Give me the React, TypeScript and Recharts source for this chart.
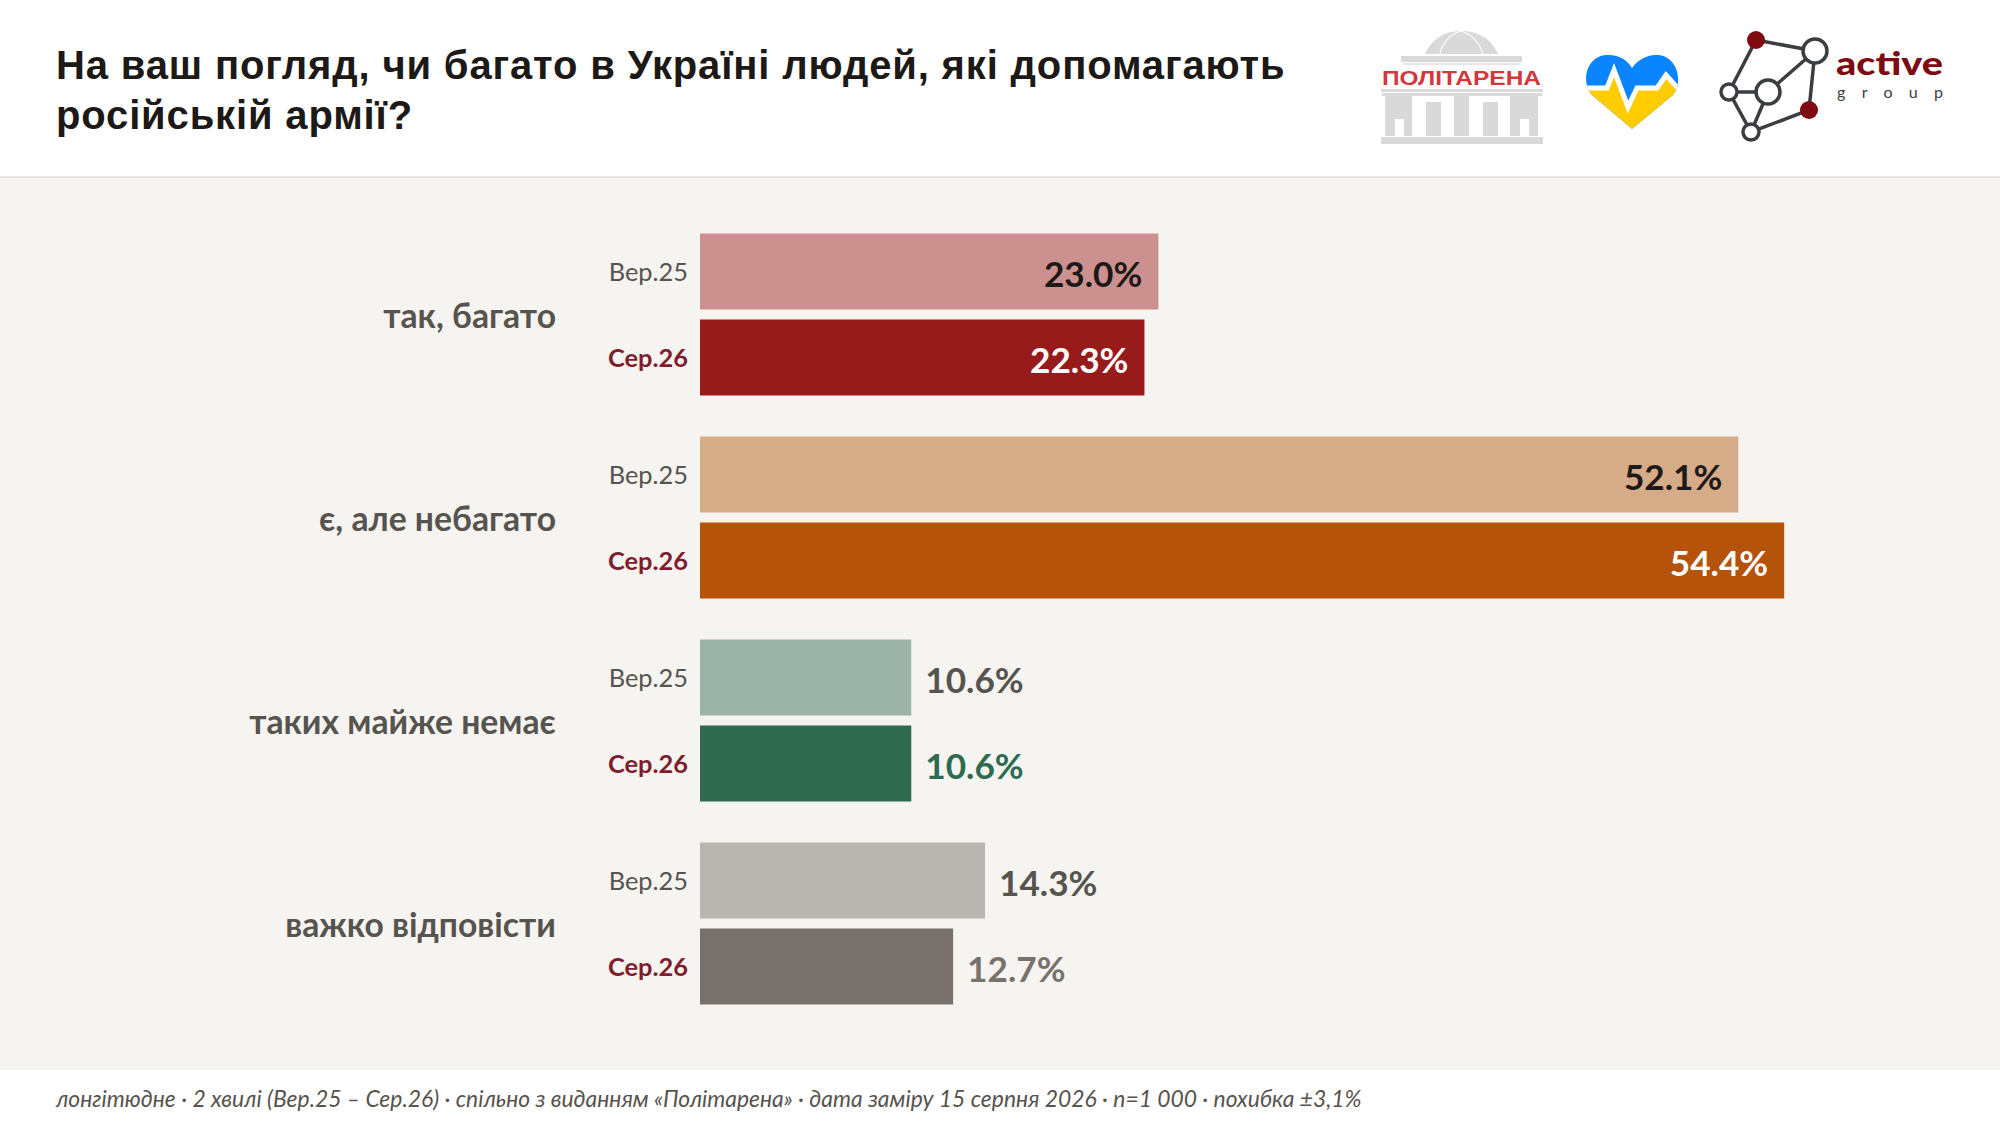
import { BarChart, Bar, XAxis, YAxis, LabelList, Cell } from "recharts";

const categories = ["так, багато", "є, але небагато", "таких майже немає", "важко відповісти"];
const waves = ["Вер.25", "Сер.26"];
const wave1Values = [23.0, 52.1, 10.6, 14.3];
const wave2Values = [22.3, 54.4, 10.6, 12.7];

const wave1Colors = ["#CC918F", "#D6AB88", "#9CB3A7", "#B9B6B1"];
const wave2Colors = ["#981B1C", "#B45309", "#2D6A4F", "#78716C"];
const wave1Text = ["#1C1917", "#1C1917", "#57534E", "#57534E"];
const wave2Text = ["#FFFFFF", "#FFFFFF", "#2D6A4F", "#78716C"];

const chartData = categories.map((name, i) => ({
  name,
  wave1: wave1Values[i],
  wave2: wave2Values[i],
}));

const FONT = "Lato, 'Noto Sans', sans-serif";

function valueLabel(textColors: string[]) {
  return (props: any) => {
    const { x, y, width, height, value, index } = props;
    const inside = value > 20;
    return (
      <text
        x={inside ? x + width - 16 : x + width + 14}
        y={y + height / 2 + 1.5}
        textAnchor={inside ? "end" : "start"}
        dominantBaseline="central"
        fontFamily={FONT}
        fontSize={35.2}
        fontWeight={700}
        fill={textColors[index]}
      >
        {value.toFixed(1)}%
      </text>
    );
  };
}

function waveLabel(name: string, bold: boolean) {
  return (props: any) => {
    const { x, y, height } = props;
    return (
      <text
        x={x - 12}
        y={y + height / 2 - 0.5}
        textAnchor="end"
        dominantBaseline="central"
        fontFamily={FONT}
        fontSize={25.4}
        fontWeight={bold ? 700 : 400}
        fill={bold ? "#7F1D2D" : "#57534E"}
      >
        {name}
      </text>
    );
  };
}

function PolitarenaLogo() {
  const gray = "#D9D9D9";
  return (
    <svg width={2000} height={176} style={{ position: "absolute", left: 0, top: 0 }}>
      {/* dome */}
      <path d="M1425 54 C1432 38 1446 31 1461 31 C1477 31 1491 38 1498 54 Z" fill={gray} />
      <path d="M1440 54 C1443 42 1451 34 1461 31 C1471 34 1479 42 1483 54" fill="none" stroke="#fff" strokeWidth={1.2} />
      <rect x={1401} y={56} width={121} height={6} fill={gray} />
      <rect x={1403} y={63} width={117} height={2} fill="#E6E6E6" />
      <text x={1461.5} y={85} textAnchor="middle" fontFamily="'Liberation Sans', sans-serif" fontSize={20} fontWeight={700} fill="#D2383C" textLength={159} lengthAdjust="spacingAndGlyphs">
        ПОЛІТАРЕНА
      </text>
      <rect x={1381} y={89} width={162} height={3} fill={gray} />
      <rect x={1382} y={93} width={160} height={3} fill={gray} />
      {/* columns */}
      <rect x={1385} y={96} width={27} height={40} fill={gray} />
      <rect x={1426} y={102} width={15} height={34} fill={gray} />
      <rect x={1454} y={96} width={15} height={40} fill={gray} />
      <rect x={1483} y={102} width={15} height={34} fill={gray} />
      <rect x={1510} y={96} width={28} height={40} fill={gray} />
      <rect x={1395} y={119} width={9} height={17} fill="#fff" />
      <rect x={1520} y={119} width={9} height={17} fill="#fff" />
      <rect x={1381} y={137} width={162} height={7} fill={gray} />
    </svg>
  );
}

function HeartLogo() {
  const heart = "M1632 129 L1592 95 C1580 82 1587 56 1606 55 C1618 54 1628 60 1632 68 C1637 60 1648 54 1658 55 C1677 56 1684 82 1673 95 Z";
  const wave = "M1580 88 L1607 88 L1614 70 L1628 107 L1637 88 L1657 88 L1666 75 L1685 96";
  return (
    <svg width={2000} height={176} style={{ position: "absolute", left: 0, top: 0 }}>
      <defs>
        <clipPath id="heartClip">
          <path d={heart} />
        </clipPath>
      </defs>
      <g clipPath="url(#heartClip)">
        <rect x={1580} y={50} width={110} height={85} fill="#0A84FF" />
        <path d={wave + " V135 H1580 Z"} fill="#FFCC00" />
        <path d={wave} fill="none" stroke="#fff" strokeWidth={5} />
      </g>
    </svg>
  );
}

function ActiveLogo() {
  const dark = "#3A3D42";
  const red = "#7F0A12";
  return (
    <svg width={2000} height={176} style={{ position: "absolute", left: 0, top: 0 }}>
      <g stroke={dark} strokeWidth={3.5} fill="none">
        <path d="M1756 40 L1815 51 L1809 110 L1751 132 L1729 92 L1756 40" />
        <path d="M1815 51 L1768 92 L1729 92 M1768 92 L1751 132" />
      </g>
      <g stroke={dark} strokeWidth={3.5} fill="#fff">
        <circle cx={1815} cy={51} r={12} />
        <circle cx={1768} cy={92} r={12} />
        <circle cx={1729} cy={92} r={8} />
        <circle cx={1751} cy={132} r={8} />
      </g>
      <circle cx={1756} cy={40} r={9} fill={red} />
      <circle cx={1809} cy={110} r={9} fill={red} />
      <text x={1836} y={74.5} fontFamily="Lato, sans-serif" fontSize={33} fontWeight={900} fill={red} textLength={107} lengthAdjust="spacingAndGlyphs">
        active
      </text>
      <text x={1837} y={98} fontFamily="Lato, sans-serif" fontSize={16} fill={dark} textLength={106} lengthAdjust="spacing">
        group
      </text>
    </svg>
  );
}

export default function App() {
  return (
    <div style={{ position: "absolute", left: 0, top: 0, width: 2000, height: 1126, background: "#fff", overflow: "hidden" }}>
      {/* header */}
      <div
        style={{
          position: "absolute",
          left: 56,
          top: 40,
          fontFamily: "'Liberation Sans', sans-serif",
          fontWeight: 700,
          fontSize: 40,
          lineHeight: "50px",
          color: "#1C1917",
          letterSpacing: 0.85,
          whiteSpace: "pre",
        }}
      >
        {"На ваш погляд, чи багато в Україні людей, які допомагають\nросійській армії?"}
      </div>
      <PolitarenaLogo />
      <HeartLogo />
      <ActiveLogo />

      {/* chart band */}
      <div style={{ position: "absolute", left: 0, top: 176, width: 2000, height: 2, background: "#E7E5E4" }} />
      <div style={{ position: "absolute", left: 0, top: 178, width: 2000, height: 892, background: "#F6F4F1" }}>
        <BarChart
          width={2000}
          height={892}
          data={chartData}
          layout="vertical"
          margin={{ top: 34.5, right: 104.2, bottom: 45.5, left: 0 }}
          barSize={76}
          barGap={10}
        >
          <XAxis type="number" domain={[0, 60]} hide />
          <YAxis
            type="category"
            dataKey="name"
            width={700}
            axisLine={false}
            tickLine={false}
            tickMargin={138}
            tick={{ fontFamily: FONT, fontSize: 33.7, fontWeight: 700, fill: "#57534E", dy: 2.5 }}
          />
          <Bar dataKey="wave1" isAnimationActive={false}>
            {wave1Colors.map((c, i) => (
              <Cell key={i} fill={c} />
            ))}
            <LabelList dataKey="wave1" content={waveLabel(waves[0], false)} />
            <LabelList dataKey="wave1" content={valueLabel(wave1Text)} />
          </Bar>
          <Bar dataKey="wave2" isAnimationActive={false}>
            {wave2Colors.map((c, i) => (
              <Cell key={i} fill={c} />
            ))}
            <LabelList dataKey="wave2" content={waveLabel(waves[1], true)} />
            <LabelList dataKey="wave2" content={valueLabel(wave2Text)} />
          </Bar>
        </BarChart>
      </div>

      {/* footer */}
      <div
        style={{
          position: "absolute",
          left: 56,
          top: 1070,
          height: 56,
          lineHeight: "56px",
          fontFamily: FONT,
          fontStyle: "italic",
          fontSize: 22.85,
          color: "#57534E",
          whiteSpace: "pre",
        }}
      >
        лонгітюдне · 2 хвилі (Вер.25 – Сер.26) · спільно з виданням «Політарена» · дата заміру 15 серпня 2026 · n=1 000 · похибка ±3,1%
      </div>
    </div>
  );
}
